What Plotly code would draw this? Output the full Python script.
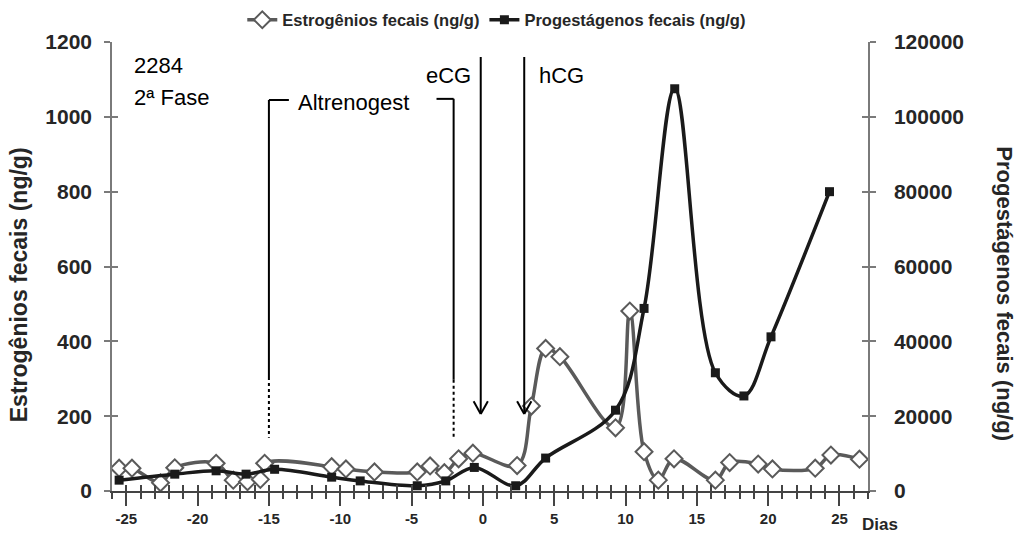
import plotly.graph_objects as go

# Fecal estrogens (ng/g), left axis
days_estr = [-25.5, -24.6, -22.6, -21.6, -18.7, -17.5, -16.5, -15.6, -15.3,
             -10.6, -9.6, -7.6, -4.6, -3.7, -2.7, -1.7, -0.7, 2.4, 3.4, 4.4,
             5.4, 9.3, 10.3, 11.3, 12.3, 13.4, 16.3, 17.3, 19.3, 20.3, 23.3,
             24.4, 26.4]
estrogenios = [61, 61, 22, 62, 74, 29, 25, 31, 74,
               65, 59, 51, 51, 67, 49, 86, 101, 68, 227, 381,
               359, 169, 481, 105, 29, 86, 29, 76, 72, 59, 61,
               96, 85]

# Fecal progestagens (ng/g), right axis
days_prog = [-25.5, -21.6, -18.7, -16.6, -14.6, -10.6, -8.6, -4.6, -2.6,
             -0.6, 2.3, 4.4, 9.3, 11.3, 13.45, 16.3, 18.3, 20.2, 24.3]
progestagenos = [2900, 4500, 5400, 4500, 5800, 3700, 2700, 1400, 2700,
                 6300, 1400, 8800, 21600, 48800, 107500, 31600, 25400, 41200, 80000]

x_ticks = list(range(-25, 26, 5))
x_ticktext = [str(v) for v in x_ticks]
y_left_ticks = list(range(0, 1201, 200))
y_left_text = [str(v) for v in y_left_ticks]
y_right_ticks = list(range(0, 120001, 20000))
y_right_text = [str(v) for v in y_right_ticks]

X_RANGE = [-26, 27]
YL_RANGE = [0, 1200]
YR_RANGE = [0, 120000]

FONT = "Liberation Sans, Arial, sans-serif"
GRAY_E = "#5a5a5a"
BLACK_P = "#1a1a1a"
AXIS_GRAY = "#7a7a7a"
TEXT_DARK = "#262626"

fig = go.Figure()

fig.add_trace(go.Scatter(
    x=days_estr, y=estrogenios, name="Estrogênios fecais (ng/g)",
    mode="lines+markers",
    line=dict(color=GRAY_E, width=3.5, shape="spline", smoothing=1),
    marker=dict(symbol="diamond", size=13, color="white",
                line=dict(color=GRAY_E, width=2)),
    yaxis="y", hoverinfo="x+y"))

fig.add_trace(go.Scatter(
    x=days_prog, y=progestagenos, name="Progestágenos fecais (ng/g)",
    mode="lines+markers",
    line=dict(color=BLACK_P, width=3.5, shape="spline", smoothing=1),
    marker=dict(symbol="square", size=9, color=BLACK_P),
    yaxis="y2", hoverinfo="x+y"))

# empty traces that host the overlay axes used for the inner half of the ticks
fig.add_trace(go.Scatter(x=[], y=[], xaxis="x2", yaxis="y", showlegend=False, hoverinfo="skip"))
fig.add_trace(go.Scatter(x=[], y=[], xaxis="x", yaxis="y3", showlegend=False, hoverinfo="skip"))
fig.add_trace(go.Scatter(x=[], y=[], xaxis="x", yaxis="y4", showlegend=False, hoverinfo="skip"))

tickfont_y = dict(family=FONT, size=21, color=TEXT_DARK, weight="bold")
tickfont_x = dict(family=FONT, size=15, color=TEXT_DARK, weight="bold")

fig.update_layout(
    width=1018, height=534,
    margin=dict(l=112, r=150, t=42, b=43, autoexpand=False),
    paper_bgcolor="white", plot_bgcolor="white",
    showlegend=True,
    legend=dict(orientation="h", xref="container", yref="container",
                x=0.488, xanchor="center", y=0.9625, yanchor="middle",
                font=dict(family=FONT, size=16.5, color=TEXT_DARK, weight="bold"),
                itemwidth=30, tracegroupgap=0, bgcolor="rgba(0,0,0,0)"),
    xaxis=dict(range=X_RANGE, tickmode="array", tickvals=x_ticks, ticktext=x_ticktext,
               ticks="outside", ticklen=13, tickwidth=1.5, tickcolor="#444",
               showline=True, linecolor="#444", linewidth=1.5, automargin=False,
               showgrid=False, zeroline=False, tickfont=tickfont_x,
               minor=dict(ticks="outside", dtick=1, tick0=0, ticklen=6,
                          tickwidth=1.5, tickcolor="#444", showgrid=False)),
    xaxis2=dict(overlaying="x", anchor="y", side="bottom", range=X_RANGE,
                tickmode="linear", tick0=0, dtick=1, ticks="inside", ticklen=6,
                tickwidth=1.5, tickcolor="#444", showticklabels=False,
                showline=False, showgrid=False, zeroline=False, automargin=False),
    yaxis=dict(range=YL_RANGE, tickmode="array", tickvals=y_left_ticks, ticktext=y_left_text,
               ticks="outside", ticklen=6, tickwidth=1.5, tickcolor=AXIS_GRAY,
               showline=True, linecolor=AXIS_GRAY, linewidth=1.5, automargin=False,
               showgrid=False, zeroline=False, tickfont=tickfont_y,
               ticklabelstandoff=8),
    yaxis2=dict(range=YR_RANGE, overlaying="y", side="right", anchor="x",
                tickmode="array", tickvals=y_right_ticks, ticktext=y_right_text,
                ticks="outside", ticklen=6, tickwidth=1.5, tickcolor=AXIS_GRAY,
                showline=True, linecolor=AXIS_GRAY, linewidth=1.5, automargin=False,
                showgrid=False, zeroline=False, tickfont=tickfont_y,
                ticklabelstandoff=14),
    yaxis3=dict(range=YL_RANGE, overlaying="y", side="left", anchor="x",
                tickmode="array", tickvals=y_left_ticks, ticks="inside", ticklen=6,
                tickwidth=1.5, tickcolor=AXIS_GRAY, showticklabels=False, automargin=False,
                showline=False, showgrid=False, zeroline=False),
    yaxis4=dict(range=YR_RANGE, overlaying="y", side="right", anchor="x",
                tickmode="array", tickvals=y_right_ticks, ticks="inside", ticklen=6,
                tickwidth=1.5, tickcolor=AXIS_GRAY, showticklabels=False, automargin=False,
                showline=False, showgrid=False, zeroline=False),
)

# axis titles and labels
ann_font = dict(family=FONT, size=22, color="black")
annotations = [
    dict(text="Estrogênios fecais (ng/g)", xref="paper", yref="paper",
         x=-0.122, y=0.46, textangle=-90, showarrow=False, xanchor="center", yanchor="middle",
         font=dict(family=FONT, size=23, color=TEXT_DARK, weight="bold")),
    dict(text="Progestágenos fecais (ng/g)", xref="paper", yref="paper",
         x=1.18, y=0.44, textangle=90, showarrow=False, xanchor="center", yanchor="middle",
         font=dict(family=FONT, size=22, color=TEXT_DARK, weight="bold")),
    dict(text="Dias", xref="paper", yref="paper", x=0.99, y=-0.0757, xanchor="left",
         yanchor="middle", showarrow=False,
         font=dict(family=FONT, size=17, color=TEXT_DARK, weight="bold")),
    dict(text="2284", xref="x", yref="y", x=-24.6, y=1136, xanchor="left",
         yanchor="middle", showarrow=False, font=ann_font),
    dict(text="2ª Fase", xref="x", yref="y", x=-24.6, y=1053, xanchor="left",
         yanchor="middle", showarrow=False, font=ann_font),
    dict(text="Altrenogest", xref="x", yref="y", x=-9.1, y=1038, xanchor="center",
         yanchor="middle", showarrow=False, font=ann_font),
    dict(text="eCG", xref="x", yref="y", x=-0.7, y=1110, xanchor="right",
         yanchor="middle", showarrow=False, font=ann_font),
    dict(text="hCG", xref="x", yref="y", x=3.8, y=1110, xanchor="left",
         yanchor="middle", showarrow=False, font=ann_font),
]
fig.update_layout(annotations=annotations)

# treatment markers: Altrenogest bracket and eCG / hCG arrows
line_k = dict(color="black", width=2)
dot_k = dict(color="black", width=2, dash="dot")
shapes = []

def seg(x0, y0, x1, y1, style):
    shapes.append(dict(type="line", xref="x", yref="y", x0=x0, y0=y0, x1=x1, y1=y1,
                       line=style))

# Altrenogest start (day -15)
seg(-15, 1045, -13.6, 1045, line_k)
seg(-15, 1045, -15, 305, line_k)
seg(-15, 305, -15, 142, dot_k)
# Altrenogest end (day -2)
seg(-3.25, 1048, -2.05, 1048, line_k)
seg(-2.05, 1048, -2.05, 297, line_k)
seg(-2.05, 297, -2.05, 144, dot_k)

# eCG and hCG arrows
for ax in (-0.15, 2.9):
    seg(ax, 1160, ax, 208, line_k)
    seg(ax - 0.5, 240, ax, 206, line_k)
    seg(ax + 0.5, 240, ax, 206, line_k)

fig.update_layout(shapes=shapes)

fig.write_html("out.html")
